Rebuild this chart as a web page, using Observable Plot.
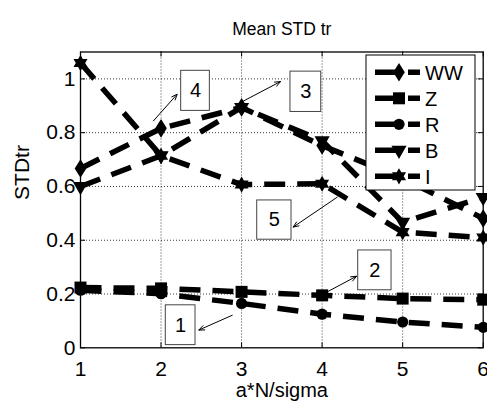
<!DOCTYPE html>
<html><head><meta charset="utf-8">
<script src="https://cdn.jsdelivr.net/npm/d3@7"></script>
<script src="https://cdn.jsdelivr.net/npm/@observablehq/plot@0.6"></script>
<style>body{margin:0;background:#fff} svg{display:block}</style>
</head><body><div id="chart"></div>
<script>
// ---- data ----
const titleText = "Mean STD tr";
const xLabelText = "a*N/sigma";
const yLabelText = "STDtr";
const xValues = [1, 2, 3, 4, 5, 6];
const seriesNames = ["WW", "Z", "R", "B", "I"];
const wwValues = [0.667, 0.816, 0.894, 0.752, 0.630, 0.481];
const zValues  = [0.224, 0.221, 0.208, 0.195, 0.183, 0.179];
const rValues  = [0.214, 0.201, 0.165, 0.125, 0.096, 0.076];
const bValues  = [0.600, 0.714, 0.894, 0.770, 0.467, 0.559];
const iValues  = [1.059, 0.714, 0.607, 0.610, 0.430, 0.410];
const xTicks = [1, 2, 3, 4, 5, 6];
const yTicks = [0, 0.2, 0.4, 0.6, 0.8, 1];
const yTickLabels = ["0", "0.2", "0.4", "0.6", "0.8", "1"];
// annotations (text boxes with arrows), in data units
const annLabels = ["4", "3", "5", "2", "1"];
const annBoxX1 = [2.250, 3.607, 3.194, 4.448, 2.059];
const annBoxX2 = [2.606, 3.989, 3.620, 4.862, 2.428];
const annBoxY1 = [0.881, 0.877, 0.402, 0.214, 0.010];
const annBoxY2 = [1.030, 1.027, 0.548, 0.362, 0.158];
const annArrowX1 = [1.906, 2.987, 4.187, 4.063, 2.884];
const annArrowY1 = [0.844, 0.912, 0.560, 0.208, 0.121];
const annArrowX2 = [2.200, 3.483, 3.641, 4.427, 2.469];
const annArrowY2 = [0.943, 0.990, 0.449, 0.266, 0.066];

// ---- symbols (MATLAB-like markers) ----
const rad = s => Math.sqrt(s / Math.PI);
const symDiamond = {draw(c, s){const r = rad(s); c.moveTo(0,-1.6*r); c.lineTo(1.0*r,0); c.lineTo(0,1.6*r); c.lineTo(-1.0*r,0); c.closePath();}};
const symSquare = {draw(c, s){const r = rad(s); c.rect(-r,-r,2*r,2*r);}};
const symCircle = {draw(c, s){const r = rad(s); c.moveTo(r,0); c.arc(0,0,r,0,2*Math.PI);}};
const symTriDown = {draw(c, s){const r = rad(s); c.moveTo(-1.35*r,-0.8*r); c.lineTo(1.35*r,-0.8*r); c.lineTo(0,1.55*r); c.closePath();}};
const symHexagram = {draw(c, s){const R = rad(s)*1.35, ri = R/Math.sqrt(3);
  for (let k = 0; k < 12; k++){const a = k*Math.PI/6 - Math.PI/2, q = k%2 ? ri : R;
    const px = q*Math.cos(a), py = q*Math.sin(a); k ? c.lineTo(px,py) : c.moveTo(px,py);} c.closePath();}};
const seriesValues = [wwValues, zValues, rValues, bValues, iValues];
const seriesSymbols = [symDiamond, symSquare, symCircle, symTriDown, symHexagram];
const seriesR = [5.8, 6.0, 5.6, 5.6, 6.0];

const rows = seriesNames.flatMap((s, i) => xValues.map((x, j) => ({series: s, x, y: seriesValues[i][j]})));
const anns = annLabels.map((t, i) => ({t, bx1: annBoxX1[i], bx2: annBoxX2[i], by1: annBoxY1[i], by2: annBoxY2[i],
  ax1: annArrowX1[i], ay1: annArrowY1[i], ax2: annArrowX2[i], ay2: annArrowY2[i]}));

const W = 487, H = 401, mL = 80, mR = 4.3, mT = 51.5, mB = 53.7;
const innerW = W - mL - mR, innerH = H - mT - mB;
const font = "'Liberation Sans', Arial, sans-serif";
const dash = "21,12";

const plot = Plot.plot({
  width: W, height: H, marginLeft: mL, marginRight: mR, marginTop: mT, marginBottom: mB,
  style: {fontFamily: font, background: "white", color: "black", overflow: "visible"},
  x: {domain: [1, 6]},
  y: {domain: [0, 1.1]},
  marks: [
    Plot.gridX(xTicks.slice(1, -1), {stroke: "#222", strokeOpacity: 1, strokeWidth: 0.9, strokeDasharray: "1,2"}),
    Plot.gridY(yTicks.slice(1), {stroke: "#222", strokeOpacity: 1, strokeWidth: 0.9, strokeDasharray: "1,2"}),
    Plot.tickX(xTicks, {x: d => d, stroke: "black", insetTop: innerH - 5}),
    Plot.tickX(xTicks, {x: d => d, stroke: "black", insetBottom: innerH - 5}),
    Plot.tickY(yTicks, {y: d => d, stroke: "black", insetRight: innerW - 5}),
    Plot.tickY(yTicks, {y: d => d, stroke: "black", insetLeft: innerW - 5}),
    Plot.axisX(xTicks, {anchor: "bottom", tickSize: 0, tickPadding: 13, fontSize: 21, label: null}),
    Plot.axisY(yTicks, {anchor: "left", tickSize: 0, tickPadding: 5, fontSize: 21, label: null,
      tickFormat: d => yTickLabels[yTicks.indexOf(d)]}),
    Plot.frame({stroke: "black", strokeWidth: 1.3}),
    Plot.line(rows, {x: "x", y: "y", z: "series", stroke: "black", strokeWidth: 5.5,
      strokeDasharray: dash, strokeLinecap: "butt", strokeLinejoin: "miter"}),
    ...seriesNames.map((s, i) => Plot.dot(rows.filter(d => d.series === s),
      {x: "x", y: "y", symbol: seriesSymbols[i], r: seriesR[i], fill: "black", stroke: "none"})),
    Plot.arrow(anns, {x1: "ax1", y1: "ay1", x2: "ax2", y2: "ay2", stroke: "black", strokeWidth: 1,
      headLength: 9, headAngle: 45}),
    Plot.rect(anns, {x1: "bx1", x2: "bx2", y1: "by1", y2: "by2", fill: "white", stroke: "#444", strokeWidth: 1}),
    Plot.text(anns, {x: d => (d.bx1 + d.bx2) / 2, y: d => (d.by1 + d.by2) / 2, text: "t", fontSize: 20, fill: "black"}),
    Plot.text([titleText], {frameAnchor: "top", dy: -17, lineAnchor: "bottom", fontSize: 17.5, fill: "black"}),
    Plot.text([xLabelText], {frameAnchor: "bottom", dy: 49, lineAnchor: "bottom", fontSize: 20, fill: "black"}),
    Plot.text([yLabelText], {frameAnchor: "left", dx: -52, rotate: -90, lineAnchor: "bottom", fontSize: 21, fill: "black"})
  ]
});

// ---- legend (MATLAB style box, top-right inside the axes) ----
const svg = d3.select(plot);
const lg = svg.append("g").attr("font-family", font).attr("text-anchor", "start");
const lgX = 366, lgY = 55, lgW = 109, lgH = 135, rowY0 = 72.3, rowStep = 26;
lg.append("rect").attr("x", lgX).attr("y", lgY).attr("width", lgW).attr("height", lgH)
  .attr("fill", "white").attr("stroke", "black").attr("stroke-width", 1);
seriesNames.forEach((s, i) => {
  const y = rowY0 + i * rowStep;
  lg.append("line").attr("x1", 375).attr("x2", 420).attr("y1", y).attr("y2", y)
    .attr("stroke", "black").attr("stroke-width", 5.5).attr("stroke-dasharray", dash);
  lg.append("path").attr("transform", `translate(399,${y})`)
    .attr("d", d3.symbol(seriesSymbols[i], Math.PI * seriesR[i] * seriesR[i])()).attr("fill", "black");
  lg.append("text").attr("x", 425).attr("y", y).attr("dy", "0.36em").attr("font-size", 20)
    .attr("text-anchor", "start").attr("fill", "black").text(s);
});
document.getElementById("chart").appendChild(plot);
</script>
</body></html>
